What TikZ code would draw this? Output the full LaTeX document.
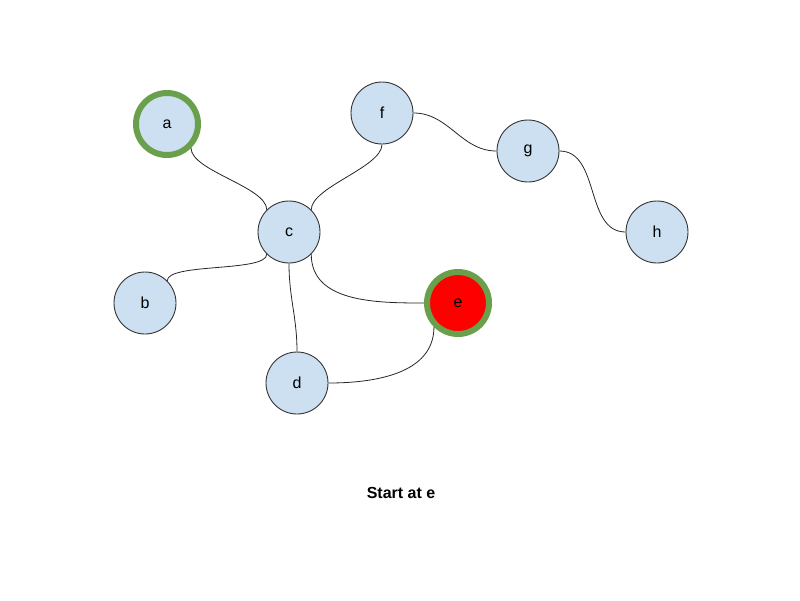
\documentclass[tikz,border=0pt]{standalone}
\usepackage{fontspec}
\setmainfont{Liberation Sans}
\begin{document}
\begin{tikzpicture}[x=1pt,y=-1pt,
  vtx/.style={circle,draw=black!80,line width=0.9pt,fill={rgb,255:red,204;green,224;blue,241},minimum size=62pt,inner sep=0pt,font=\fontsize{16}{19}\selectfont},
  visited/.style={draw={rgb,255:red,106;green,160;blue,76},line width=6pt,minimum size=62pt},
  current/.style={fill={rgb,255:red,255;green,0;blue,0}},
  edge/.style={draw=black!85,line width=0.8pt}]
\useasboundingbox (0,0) rectangle (800,600);
\node[vtx,visited] (a) at (167,124) {a};
\node[vtx] (f) at (382,113) {f};
\node[vtx] (g) at (528,151) {g};
\node[vtx] (h) at (657,232) {h};
\node[vtx] (c) at (289,232) {c};
\node[vtx] (b) at (145,303) {b};
\node[vtx] (d) at (297,383) {d};
\node[vtx,visited,current] (e) at (458,303) {e};
\node[font=\bfseries\fontsize{16}{19}\selectfont] (t) at (401,493) {Start at e};
\draw[edge] (a.-45) to[out=-90,in=90,looseness=0.6] (c.135);
\draw[edge] (c.45) to[out=90,in=-90,looseness=0.6] (f.-90);
\draw[edge] (f.0) to[out=0,in=180] (g.180);
\draw[edge] (g.0) to[out=0,in=180] (h.180);
\draw[edge] (c.-135) to[out=-90,in=90,looseness=0.45] (b.45);
\draw[edge] (c.-90) to[out=-90,in=90] (d.90);
\draw[edge] (c.-45) to[out=-90,in=180] (e.180);
\draw[edge] (d.0) to[out=0,in=-90] (e.-135);
\end{tikzpicture}
\end{document}
